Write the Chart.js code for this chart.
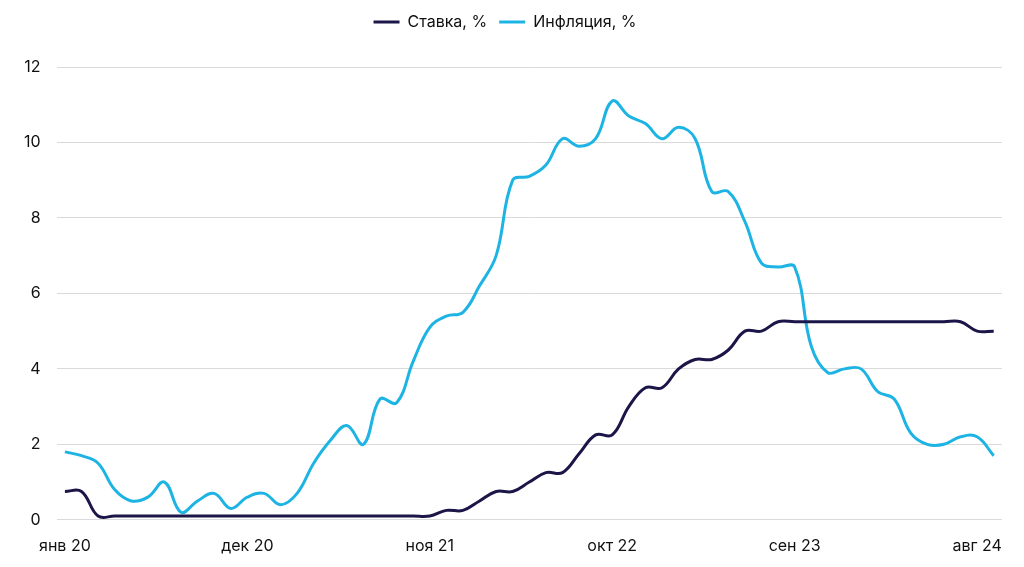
<!DOCTYPE html>
<html>
<head>
<meta charset="utf-8">
<script src="https://cdn.jsdelivr.net/npm/chart.js@4"></script>
<style>
  html, body { margin: 0; padding: 0; background: #fff; }
  #wrap { width: 1024px; height: 567px; }
</style>
</head>
<body>
<div id="wrap"><canvas id="lineChart"></canvas></div>
<script>
// months Jan 2020 .. Sep 2024
const monthNames = ["янв", "фев", "мар", "апр", "май", "июн", "июл", "авг", "сен", "окт", "ноя", "дек"];
let labelsArray = [];
for (let y = 20; y <= 24; y++) {
  monthNames.forEach((m, i) => {
    if (y === 24 && i > 8) return;
    labelsArray.push(m + " " + y);
  });
}

// Ставка, %
const rateArray = [
  0.75, 0.75, 0.1, 0.1, 0.1, 0.1, 0.1, 0.1, 0.1, 0.1, 0.1, 0.1,
  0.1, 0.1, 0.1, 0.1, 0.1, 0.1, 0.1, 0.1, 0.1, 0.1, 0.1, 0.25,
  0.25, 0.5, 0.75, 0.75, 1.0, 1.25, 1.25, 1.75, 2.25, 2.25, 3.0, 3.5,
  3.5, 4.0, 4.25, 4.25, 4.5, 5.0, 5.0, 5.25, 5.25, 5.25, 5.25, 5.25,
  5.25, 5.25, 5.25, 5.25, 5.25, 5.25, 5.25, 5.0, 5.0,
];

// Инфляция, %
const inflationArray = [
  1.8, 1.7, 1.5, 0.8, 0.5, 0.6, 1.0, 0.2, 0.5, 0.7, 0.3, 0.6,
  0.7, 0.4, 0.7, 1.5, 2.1, 2.5, 2.0, 3.2, 3.1, 4.2, 5.1, 5.4,
  5.5, 6.2, 7.0, 9.0, 9.1, 9.4, 10.1, 9.9, 10.1, 11.1, 10.7, 10.5,
  10.1, 10.4, 10.1, 8.7, 8.7, 7.9, 6.8, 6.7, 6.7, 4.6, 3.9, 4.0,
  4.0, 3.4, 3.2, 2.3, 2.0, 2.0, 2.2, 2.2, 1.7,
];

const yTicks = [0, 2, 4, 6, 8, 10, 12];

const navy = "#1b1548";
const cyan = "#1db4e4";

Chart.defaults.font.family = "Inter, 'Liberation Sans', sans-serif";
Chart.defaults.font.size = 16;
Chart.defaults.color = "#111";

//make more room under the legend
const legendSpacer = {
  id: "legendSpacer",
  beforeInit(chart) {
    const origFit = chart.legend.fit;
    chart.legend.fit = function () {
      origFit.bind(chart.legend)();
      this.height += 27;
    };
  },
};

const lineData = {
  labels: labelsArray,
  datasets: [
    {
      label: "Ставка, %",
      data: rateArray,
      borderColor: navy,
      backgroundColor: navy,
      borderWidth: 3,
      pointRadius: 0,
      tension: 0.4,
      fill: false,
    },
    {
      label: "Инфляция, %",
      data: inflationArray,
      borderColor: cyan,
      backgroundColor: cyan,
      borderWidth: 3,
      pointRadius: 0,
      tension: 0.4,
      fill: false,
    },
  ],
};

const lineConfig = {
  type: "line",
  data: lineData,
  plugins: [legendSpacer],
  options: {
    responsive: true,
    maintainAspectRatio: false,
    animation: false,
    layout: { padding: { left: 8, right: 22, top: 2, bottom: -6 } },
    plugins: {
      legend: {
        position: "top",
        labels: {
          usePointStyle: true,
          pointStyle: "line",
          pointStyleWidth: 26,
          boxHeight: 3,
          padding: 12,
          color: "#111",
        },
      },
      tooltip: { enabled: false },
    },
    scales: {
      x: {
        offset: true,
        grid: { display: false, drawTicks: false },
        border: { display: false },
        ticks: {
          autoSkip: false,
          maxRotation: 0,
          padding: 17,
          callback: function (value, index) {
            return index % 11 === 0 ? labelsArray[index] : "";
          },
        },
      },
      y: {
        min: 0,
        max: 12,
        afterBuildTicks: (axis) => {
          axis.ticks = yTicks.map((v) => ({ value: v }));
        },
        grid: { color: "#dadada", lineWidth: 1, drawTicks: false },
        border: { display: false },
        ticks: { padding: 16 },
      },
    },
  },
};

window.addEventListener("DOMContentLoaded", () => {
  const lineChart = new Chart(document.getElementById("lineChart"), lineConfig);
});
</script>
</body>
</html>
